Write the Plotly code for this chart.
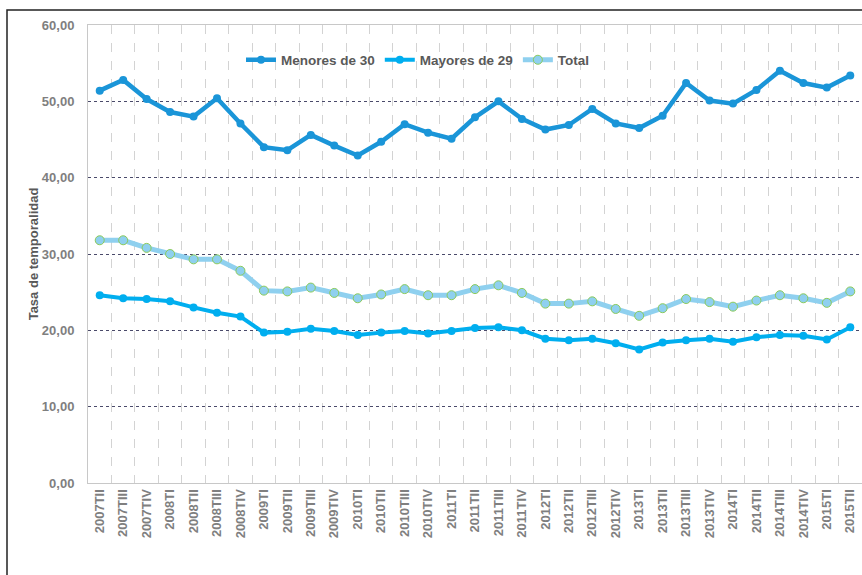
import plotly.graph_objects as go

categories = [
    "2007TII", "2007TIII", "2007TIV",
    "2008TI", "2008TII", "2008TIII", "2008TIV",
    "2009TI", "2009TII", "2009TIII", "2009TIV",
    "2010TI", "2010TII", "2010TIII", "2010TIV",
    "2011TI", "2011TII", "2011TIII", "2011TIV",
    "2012TI", "2012TII", "2012TIII", "2012TIV",
    "2013TI", "2013TII", "2013TIII", "2013TIV",
    "2014TI", "2014TII", "2014TIII", "2014TIV",
    "2015TI", "2015TII",
]

menores_30 = [51.4, 52.8, 50.3, 48.6, 48.0, 50.4, 47.1,
              44.0, 43.6, 45.6, 44.2, 42.9, 44.7, 47.0, 45.9,
              45.1, 47.9, 50.0, 47.7, 46.3, 46.9, 49.0, 47.1,
              46.5, 48.1, 52.4, 50.1, 49.7, 51.5, 54.0, 52.4,
              51.8, 53.4]

mayores_29 = [24.6, 24.2, 24.1, 23.8, 23.0, 22.3, 21.8,
              19.7, 19.8, 20.2, 19.9, 19.4, 19.7, 19.9, 19.6,
              19.9, 20.3, 20.4, 20.0, 18.9, 18.7, 18.9, 18.3,
              17.5, 18.4, 18.7, 18.9, 18.5, 19.1, 19.4, 19.3,
              18.8, 20.4]

total = [31.8, 31.8, 30.8, 30.0, 29.3, 29.3, 27.8,
         25.2, 25.1, 25.6, 24.9, 24.2, 24.7, 25.4, 24.6,
         24.6, 25.4, 25.9, 24.9, 23.5, 23.5, 23.8, 22.8,
         21.9, 22.9, 24.1, 23.7, 23.1, 23.9, 24.6, 24.2,
         23.6, 25.1]

y_ticks = [0, 10, 20, 30, 40, 50, 60]
y_tick_labels = ["0,00", "10,00", "20,00", "30,00", "40,00", "50,00", "60,00"]

FONT = "Liberation Sans, Arial, sans-serif"
W, H = 862, 575
ML, MR, MT, MB = 88, 0, 25, 92

fig = go.Figure()
fig.add_trace(go.Scatter(
    x=categories, y=menores_30, name="Menores de 30", mode="lines+markers",
    line=dict(color="#1A95D8", width=4.5),
    marker=dict(color="#1A95D8", size=8),
))
fig.add_trace(go.Scatter(
    x=categories, y=mayores_29, name="Mayores de 29", mode="lines+markers",
    line=dict(color="#00AEEF", width=4),
    marker=dict(color="#00AEEF", size=8),
))
fig.add_trace(go.Scatter(
    x=categories, y=total, name="Total", mode="lines+markers",
    line=dict(color="#8FD0EF", width=5),
    marker=dict(color="#8FD0EF", size=9, line=dict(color="#8CCB5A", width=1)),
))

pw = W - ML - MR
ph = H - MT - MB
def px_x(p):
    return (p - ML) / pw
def px_y(p):
    return (H - MB - p) / ph

fig.update_layout(
    width=W, height=H,
    margin=dict(l=ML, r=MR, t=MT, b=MB),
    paper_bgcolor="white", plot_bgcolor="white",
    font=dict(family=FONT, color="#7F7F7F"),
    showlegend=True,
    legend=dict(
        orientation="h", x=px_x(418), y=px_y(60), xanchor="center", yanchor="middle",
        font=dict(family=FONT, size=13.5, color="#595959", weight="bold"),
        bgcolor="rgba(0,0,0,0)", itemwidth=30, tracegroupgap=0,
    ),
    xaxis=dict(
        type="category", tickson="boundaries", tickangle=-90,
        showgrid=True, gridcolor="#D3D3D3", griddash="dash", gridwidth=1,
        showline=True, linecolor="#C8C8C8", linewidth=1, mirror=True,
        ticks="", tickfont=dict(family=FONT, size=13, color="#7F7F7F", weight="bold"),
        range=[-0.5, len(categories) - 0.5],
    ),
    yaxis=dict(
        range=[0, 60], tickvals=y_ticks, ticktext=y_tick_labels,
        showgrid=True, gridcolor="#4A4A6A", griddash="dot", gridwidth=1,
        zeroline=False, showline=True, linecolor="#C8C8C8", linewidth=1,
        ticks="", ticklabelstandoff=10,
        tickfont=dict(family=FONT, size=13, color="#7F7F7F", weight="bold"),
        title=dict(text="Tasa de temporalidad", standoff=0,
                   font=dict(family=FONT, size=13, color="#595959", weight="bold")),
    ),
    shapes=[dict(
        type="rect", xref="paper", yref="paper",
        x0=px_x(7), x1=px_x(W + 20), y0=px_y(H + 20), y1=px_y(10),
        line=dict(color="#222222", width=1.5), fillcolor="rgba(0,0,0,0)", layer="above",
    )],
)

fig.write_html("out.html", config={"displayModeBar": False},
               post_script="document.body.style.margin='0';")
